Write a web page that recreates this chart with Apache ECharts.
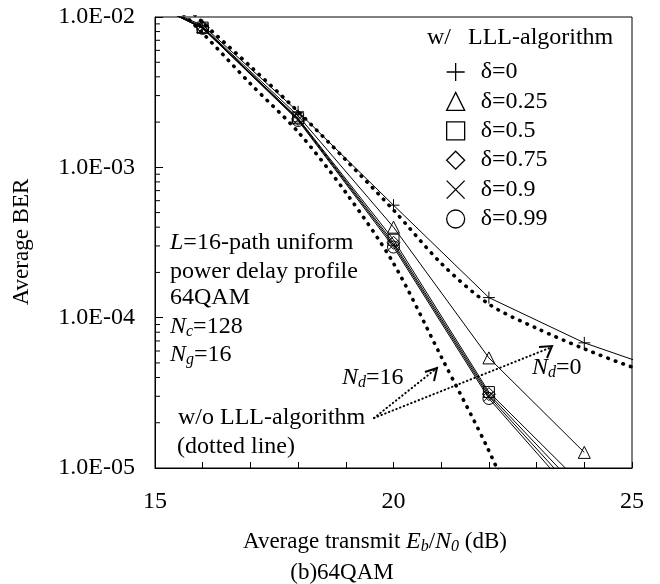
<!DOCTYPE html>
<html>
<head>
<meta charset="utf-8">
<script src="https://cdn.jsdelivr.net/npm/echarts@6/dist/echarts.min.js"></script>
<style>
  html, body { margin: 0; padding: 0; background: #fff; }
  #chart { width: 660px; height: 584px; }
</style>
</head>
<body>
<div id="chart"></div>
<script>
// Eb/N0 (dB) points with LLL-algorithm (markers)
const snrPlus = [15, 16, 18, 20, 22, 24, 26]
const snrMarked = [15, 16, 18, 20, 22, 24]
const berD0 = [1.2e-2, 8.8e-3, 2.34e-3, 5.6e-4, 1.36e-4, 6.8e-5, 4.1e-5]
const berD025 = [1.2e-2, 8.6e-3, 2.2e-3, 4.0e-4, 5.4e-5, 1.27e-5]
const berD05 = [1.2e-2, 8.5e-3, 2.12e-3, 3.3e-4, 3.2e-5, 7.5e-6]
const berD075 = [1.2e-2, 8.5e-3, 2.1e-3, 3.15e-4, 3.1e-5, 6.6e-6]
const berD09 = [1.2e-2, 8.4e-3, 2.08e-3, 3.05e-4, 3.0e-5, 6.0e-6]
const berD099 = [1.2e-2, 8.4e-3, 2.05e-3, 2.95e-4, 2.9e-5, 5.5e-6]

// w/o LLL-algorithm (dotted curves)
const snrNd0 = [15, 16, 17, 18, 19, 20, 21, 22, 23, 24, 25, 26]
const berNd0 = [1.9e-2, 9.2e-3, 4.7e-3, 2.35e-3, 1.12e-3, 5.2e-4, 2.3e-4, 1.23e-4, 8.5e-5, 6.2e-5, 4.7e-5, 3.8e-5]
const snrNd16 = [15, 16, 17, 18, 19, 20, 21, 22, 23]
const berNd16 = [1.6e-2, 7.8e-3, 3.6e-3, 1.72e-3, 6.8e-4, 2.3e-4, 5.5e-5, 1.3e-5, 2.5e-6]

const legendNames = ['δ=0', 'δ=0.25', 'δ=0.5', 'δ=0.75', 'δ=0.9', 'δ=0.99']
const xLabels = [15, 20, 25]
const minorMantissas = [2, 3, 4, 5, 6, 7, 8, 9]
const minorDecades = [-5, -4, -3]

const plusPath = 'path://M0,5L10,5M5,0L5,10'
const crossPath = 'path://M1,1L9,9M9,1L1,9'
const symbols = [plusPath, 'triangle', 'rect', 'diamond', crossPath, 'circle']
const symbolSizes = [12, 12, 11, 13, 10, 12]

const FONT = '"Liberation Serif", "Times New Roman", serif'
const X_MIN = 15
const MINOR_TICK_DB = 0.105 // about 5px on the x scale

function pairs(xs, ys) {
  return xs.map((x, i) => [x, ys[i]])
}

const markedData = [
  pairs(snrPlus, berD0),
  pairs(snrMarked, berD025),
  pairs(snrMarked, berD05),
  pairs(snrMarked, berD075),
  pairs(snrMarked, berD09),
  pairs(snrMarked, berD099)
]

// minor ticks of the log axis as short segments, broken by '-'
const minorTickData = []
minorDecades.forEach(d => {
  minorMantissas.forEach(m => {
    const v = m * Math.pow(10, d)
    minorTickData.push([X_MIN, v], [X_MIN + MINOR_TICK_DB, v], ['-', '-'])
  })
})

const chart = echarts.init(document.getElementById('chart'))

const markerSeries = legendNames.map((name, i) => ({
  name: name,
  type: 'line',
  data: markedData[i],
  symbol: symbols[i],
  symbolSize: symbolSizes[i],
  showAllSymbol: true,
  lineStyle: { color: '#000', width: 1 },
  itemStyle: { color: 'rgba(0,0,0,0)', borderColor: '#000', borderWidth: 1 },
  z: 3
}))

const dottedStyle = { color: '#000', width: 3.6, type: [0.5, 7.5], cap: 'round' }

const richText = {
  i: { fontStyle: 'italic', fontFamily: FONT, fontSize: 24, lineHeight: 26 },
  s: { fontStyle: 'italic', fontFamily: FONT, fontSize: 16, lineHeight: 8, verticalAlign: 'bottom' }
}

function label(x, y, text) {
  return {
    type: 'text',
    left: x,
    top: y - 13,
    style: { text: text, font: '24px ' + FONT, fill: '#000', rich: richText, lineHeight: 26 }
  }
}

const option = {
  animation: false,
  backgroundColor: '#fff',
  grid: {
    left: 155, right: 28, top: 17, bottom: 116,
    show: true, borderColor: '#000', borderWidth: 1
  },
  xAxis: {
    type: 'value',
    min: 15, max: 25, interval: 1,
    axisLine: { lineStyle: { color: '#000', width: 1 } },
    axisTick: { inside: true, length: 6, lineStyle: { color: '#000' } },
    axisLabel: {
      margin: 22,
      fontFamily: FONT, fontSize: 24, color: '#000',
      formatter: v => (xLabels.includes(v) ? String(v) : '')
    },
    splitLine: { show: false }
  },
  yAxis: {
    type: 'log',
    logBase: 10,
    min: 1e-5, max: 1e-2,
    splitNumber: 3,
    axisLine: { show: true, lineStyle: { color: '#000', width: 1 } },
    axisTick: { inside: true, length: 8, lineStyle: { color: '#000' } },
    minorTick: { show: false },
    axisLabel: {
      margin: 20,
      fontFamily: FONT, fontSize: 24, color: '#000',
      formatter: v => {
        const e = Math.round(Math.log10(v))
        return '1.0E-' + String(-e).padStart(2, '0')
      }
    },
    splitLine: { show: false },
    minorSplitLine: { show: false }
  },
  legend: {
    data: legendNames.map((n, i) => ({ name: n, icon: symbols[i] })),
    orient: 'vertical',
    left: 441,
    top: 55,
    itemWidth: 18,
    itemHeight: 18,
    itemGap: 5.4,
    selectedMode: false,
    itemStyle: { color: 'rgba(0,0,0,0)', borderColor: '#000', borderWidth: 1.3 },
    textStyle: { fontFamily: FONT, fontSize: 24, color: '#000', lineHeight: 24, padding: [0, 0, 0, 11] }
  },
  graphic: [
    label(427, 38, 'w/'),
    label(468, 38, 'LLL-algorithm'),
    label(170, 243, '{i|L}=16-path uniform'),
    label(170, 272, 'power delay profile'),
    label(170, 298, '64QAM'),
    label(170, 327, '{i|N}{s|c}=128'),
    label(170, 355, '{i|N}{s|g}=16'),
    label(178, 418, 'w/o LLL-algorithm'),
    label(177, 447, '(dotted line)'),
    label(342, 378, '{i|N}{s|d}=16'),
    label(532, 368, '{i|N}{s|d}=0'),
    {
      type: 'text',
      x: 375,
      y: 542,
      style: {
        text: 'Average transmit {i|E}{s|b}/{i|N}{s|0} (dB)',
        font: '23px ' + FONT, fill: '#000', rich: richText, lineHeight: 26,
        align: 'center', verticalAlign: 'middle'
      }
    },
    {
      type: 'text',
      x: 342,
      y: 573,
      style: { text: '(b)64QAM', font: '23px ' + FONT, fill: '#000', align: 'center', verticalAlign: 'middle' }
    },
    {
      type: 'text',
      x: 22,
      y: 242,
      rotation: Math.PI / 2,
      style: {
        text: 'Average BER', font: '23px ' + FONT, fill: '#000',
        align: 'center', verticalAlign: 'middle'
      }
    },
    // annotation arrows
    {
      type: 'polyline',
      shape: { points: [[374, 418], [437, 368]] },
      style: { stroke: '#000', lineWidth: 2, lineDash: [0.5, 3.5], lineCap: 'round', fill: null }
    },
    {
      type: 'polyline',
      shape: { points: [[425, 372], [437, 368], [434, 381]] },
      style: { stroke: '#000', lineWidth: 2, fill: null }
    },
    {
      type: 'polyline',
      shape: { points: [[374, 418], [552, 347]] },
      style: { stroke: '#000', lineWidth: 2, lineDash: [0.5, 3.5], lineCap: 'round', fill: null }
    },
    {
      type: 'polyline',
      shape: { points: [[539, 347], [552, 346], [547, 358]] },
      style: { stroke: '#000', lineWidth: 2, fill: null }
    }
  ],
  series: [
    ...markerSeries,
    {
      name: 'Nd=0',
      type: 'line',
      data: pairs(snrNd0, berNd0),
      smooth: 0.3,
      symbol: 'none',
      lineStyle: dottedStyle,
      z: 2
    },
    {
      name: 'Nd=16',
      type: 'line',
      data: pairs(snrNd16, berNd16),
      smooth: 0.3,
      symbol: 'none',
      lineStyle: dottedStyle,
      z: 2
    },
    {
      name: 'minorTicks',
      type: 'line',
      data: minorTickData,
      symbol: 'none',
      connectNulls: false,
      silent: true,
      lineStyle: { color: '#000', width: 1 },
      z: 4
    }
  ]
}

chart.setOption(option)
</script>
</body>
</html>
